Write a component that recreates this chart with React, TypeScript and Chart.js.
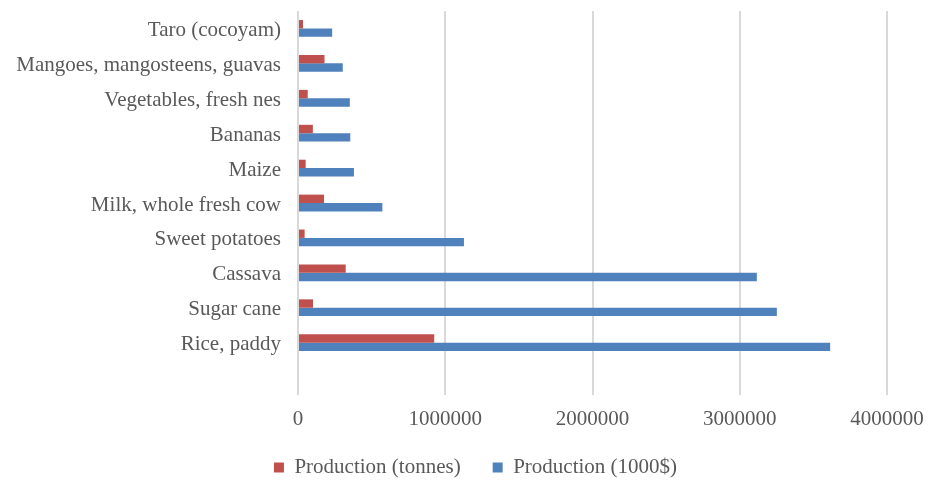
import React, { useEffect, useRef } from "react";
import { Chart, registerables } from "chart.js";

Chart.register(...registerables);

const categories = [
  "Taro (cocoyam)",
  "Mangoes, mangosteens, guavas",
  "Vegetables, fresh nes",
  "Bananas",
  "Maize",
  "Milk, whole fresh cow",
  "Sweet potatoes",
  "Cassava",
  "Sugar cane",
  "Rice, paddy",
  "",
];

const productionTonnes = [34000, 180000, 66000, 101000, 52000, 177000, 45000, 324000, 102000, 925000, null];
const production1000 = [232000, 304000, 352000, 355000, 380000, 573000, 1127000, 3116000, 3252000, 3614000, null];

const xTicks = [0, 1000000, 2000000, 3000000, 4000000];

const FONT = "'Liberation Serif', 'Times New Roman', serif";
const TEXT = "#595959";
const SIZE = 21;

const legendShift = {
  id: "legendShift",
  afterLayout(chart: any) {
    const lg = chart.legend;
    if (!lg) return;
    lg.left += 32;
    lg.right += 32;
    lg.top -= 1;
    lg.bottom -= 1;
  },
};

export default function App() {
  const ref = useRef<HTMLCanvasElement | null>(null);
  useEffect(() => {
    document.body.style.margin = "0";
    const ctx = ref.current!;
    const chart = new Chart(ctx, {
      type: "bar",
      data: {
        labels: categories,
        datasets: [
          {
            label: "Production (tonnes)",
            data: productionTonnes as any,
            backgroundColor: "#C0504D",
            barPercentage: 1,
            categoryPercentage: 0.48,
          },
          {
            label: "Production (1000$)",
            data: production1000 as any,
            backgroundColor: "#4F81BD",
            barPercentage: 1,
            categoryPercentage: 0.48,
          },
        ],
      },
      plugins: [legendShift],
      options: {
        indexAxis: "y",
        animation: false,
        responsive: false,
        devicePixelRatio: 1,
        layout: { padding: { top: 11, right: 43, left: 0, bottom: 0 } },
        plugins: {
          tooltip: { enabled: false },
          legend: {
            position: "bottom",
            maxHeight: 54,
            labels: {
              boxWidth: 10,
              boxHeight: 10,
              padding: 32,
              color: TEXT,
              font: { family: FONT, size: SIZE },
            },
          },
        },
        scales: {
          x: {
            min: 0,
            max: 4000000,
            afterBuildTicks: (scale: any) => {
              scale.ticks = xTicks.map((v) => ({ value: v }));
            },
            afterFit: (scale: any) => {
              scale.height = 31;
              scale.paddingLeft = 0;
              scale.paddingRight = 0;
            },
            grid: { color: "#d9d9d9", lineWidth: 2, drawTicks: false },
            border: { display: false },
            ticks: {
              padding: 12,
              color: TEXT,
              font: { family: FONT, size: SIZE },
              maxRotation: 0,
              callback: (v: any) => String(v),
            },
          },
          y: {
            afterFit: (scale: any) => {
              scale.width = 298;
              scale.paddingTop = 0;
              scale.paddingBottom = 0;
            },
            grid: { display: false, drawTicks: false },
            border: { display: false },
            ticks: {
              padding: 17,
              labelOffset: 2,
              color: TEXT,
              font: { family: FONT, size: SIZE },
              autoSkip: false,
            },
          },
        },
      },
    });
    return () => chart.destroy();
  }, []);
  return <canvas ref={ref} width={930} height={480} style={{ display: "block" }} />;
}
